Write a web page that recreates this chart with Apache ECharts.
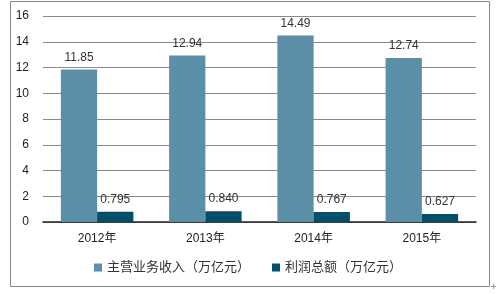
<!DOCTYPE html>
<html><head><meta charset="utf-8">
<script src="https://cdn.jsdelivr.net/npm/echarts@6/dist/echarts.min.js"></script>
<style>html,body{margin:0;padding:0;background:#fff}#c{width:496px;height:294px}</style>
</head><body><div id="c"></div>
<script>
const categories = ['2012年','2013年','2014年','2015年'];
const revenue = [11.85, 12.94, 14.49, 12.74];
const profit = [0.795, 0.840, 0.767, 0.627];
const profitLabels = ['0.795','0.840','0.767','0.627'];
const seriesNames = ['主营业务收入（万亿元）','利润总额（万亿元）'];
const chart = echarts.init(document.getElementById('c'));
const font = '"Liberation Sans", Arial, "Noto Sans CJK SC", sans-serif';
chart.setOption({
  animation:false,
  textStyle:{fontFamily:font},
  graphic:[
    {type:'rect',shape:{x:10.5,y:1.5,width:479,height:285},style:{fill:'none',stroke:'#888',lineWidth:1}},
    {type:'line',shape:{x1:491,y1:286.5,x2:496,y2:286.5},style:{stroke:'#999',lineWidth:1}},
    {type:'line',shape:{x1:493.5,y1:284,x2:493.5,y2:289},style:{stroke:'#999',lineWidth:1}}
  ],
  grid:{left:43,right:20,top:16,bottom:72},
  legend:{bottom:15,left:'center',itemWidth:8,itemHeight:8,itemGap:22,icon:'rect',
    textStyle:{fontSize:13,color:'#333',fontFamily:font},data:seriesNames},
  xAxis:{type:'category',data:categories,axisTick:{show:false},
    axisLine:{lineStyle:{color:'#222',width:1.5}},
    axisLabel:{fontSize:12,color:'#222',margin:11,fontFamily:font}},
  yAxis:{type:'value',min:0,max:16,interval:2,axisLine:{show:false},axisTick:{show:false},
    splitLine:{lineStyle:{color:'#8a8a8a',width:1}},
    axisLabel:{fontSize:12,color:'#222',margin:14,fontFamily:font}},
  series:[
    {name:seriesNames[0],type:'bar',data:revenue,barGap:'0%',barCategoryGap:'33%',
     itemStyle:{color:'#5b8fa7'},
     label:{show:true,position:'top',distance:6,fontSize:12,color:'#333',fontFamily:font}},
    {name:seriesNames[1],type:'bar',data:profit,barGap:'0%',barCategoryGap:'33%',
     itemStyle:{color:'#004f6b'},
     label:{show:true,position:'top',distance:6,fontSize:12,color:'#333',fontFamily:font,
       formatter:p=>profitLabels[p.dataIndex]}}
  ]
});
</script></body></html>
